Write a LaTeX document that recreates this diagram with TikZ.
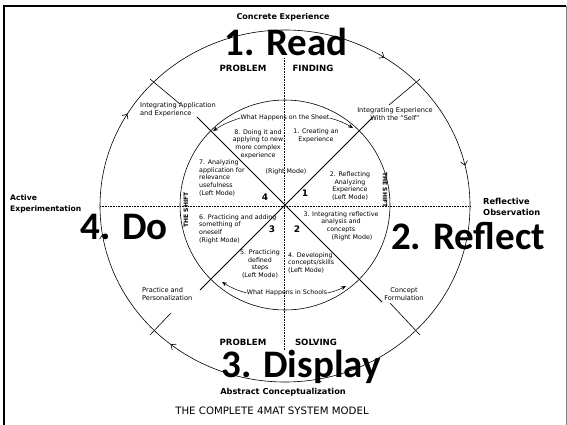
\documentclass[tikz,border=0pt]{standalone}
\usepackage{fontspec}
\setmainfont{DejaVu Sans}
\newfontfamily\bigfont{Carlito}
\usetikzlibrary{arrows.meta,decorations.markings}
\begin{document}
\begin{tikzpicture}[x=1pt,y=-1pt,
  inlab/.style={font=\fontsize{6.3}{7.6}\selectfont, inner sep=0pt, align=center},
  sidelab/.style={font=\fontsize{6.6}{8}\selectfont, inner sep=0pt, align=center},
  outb/.style={font=\bfseries\fontsize{8}{11}\selectfont, inner sep=0pt, align=left},
  headb/.style={font=\bfseries\fontsize{8.6}{10}\selectfont, inner sep=0pt},
  big/.style={font=\bigfont\bfseries\fontsize{39}{39}\selectfont, inner sep=0pt, anchor=base},
  num/.style={font=\bfseries\fontsize{9}{9}\selectfont, inner sep=0pt},
  ring/.style={line width=0.6pt},
  axisline/.style={line width=0.6pt, densely dotted},
  diag/.style={line width=0.8pt},
  flow/.style={-{Stealth[length=5pt,width=4pt]}, line width=0.5pt},
  cyc/.style={ring, postaction={decorate, decoration={markings,
     mark=at position 0.222 with {\arrow{Straight Barb[length=4pt,width=7pt]}},
     mark=at position 0.358 with {\arrow{Straight Barb[length=4pt,width=7pt]}},
     mark=at position 0.475 with {\arrow{Straight Barb[length=4pt,width=7pt]}},
     mark=at position 0.586 with {\arrow{Straight Barb[length=4pt,width=7pt]}},
     mark=at position 0.842 with {\arrow{Straight Barb[length=4pt,width=7pt]}},
     mark=at position 0.964 with {\arrow{Straight Barb[length=4pt,width=7pt]}}}}},
]
\useasboundingbox (0,0) rectangle (567,425);
\fill[white] (0,0) rectangle (567,425);
% frame
\draw[line width=1.3pt] (4,425) -- (4,6) -- (566,6);
\draw[line width=0.4pt, gray] (566,6) -- (566,425);

% centre points
\coordinate (c) at (285,206);
\coordinate (ci) at (285,205);

% outer and inner circles
\draw[cyc] (c) ellipse [x radius=185, y radius=176];
\draw[ring] (ci) circle [radius=105];

% axes
\coordinate (axL) at (100,206);
\coordinate (axR) at (470,206);
\coordinate (axT) at (284,58);
\coordinate (axB) at (284,350);
\draw[axisline] (axL) -- (axR);
\draw[axisline] (axT) -- (axB);

% diagonals
\coordinate (dNW) at (197,117);
\coordinate (dNE) at (373,117);
\coordinate (dSW) at (200,290);
\coordinate (dSE) at (382,302);
\draw[diag] (dNW) -- (dSE);
\draw[diag] (dNE) -- (dSW);

% radial segments on outer circle
\coordinate (oNWa) at (150,79);  \coordinate (oNWb) at (180,104);
\coordinate (oNEa) at (420,79);  \coordinate (oNEb) at (389,105);
\coordinate (oSEa) at (420,335); \coordinate (oSEb) at (390,303);
\coordinate (oSWa) at (150,335); \coordinate (oSWb) at (171,313);
\draw[ring] (oNWa) -- (oNWb);
\draw[ring] (oNEa) -- (oNEb);
\draw[ring] (oSEa) -- (oSEb);
\draw[ring] (oSWa) -- (oSWb);

% big labels
\node[big] (read) at (286,56) {1. Read};
\node[big] (reflect) at (468,249) {2. Reflect};
\node[big] (display) at (301,377) {3. Display};
\node[big] (do) at (124,239) {4. Do};

% outer labels
\node[headb, font=\bfseries\fontsize{8}{10}\selectfont] (ce) at (283,17) {Concrete Experience};
\node[headb] (pf) at (243,68) {PROBLEM};
\node[headb] (fd) at (313,68) {FINDING};
\node[headb] (ps) at (243,342) {PROBLEM};
\node[headb] (sv) at (316,342) {SOLVING};
\node[headb, font=\bfseries\fontsize{8.2}{10}\selectfont] (ac) at (283,392) {Abstract Conceptualization};
\node[outb, anchor=west, font=\bfseries\fontsize{7.6}{11}\selectfont] (ae) at (10,204) {Active\\Experimentation};
\node[outb, anchor=west, font=\bfseries\fontsize{8.3}{11}\selectfont] (ro) at (483,207) {Reflective\\Observation};
\node[inner sep=0pt, font=\fontsize{10.2}{12}\selectfont] (title) at (272,411) {THE COMPLETE 4MAT SYSTEM MODEL};

\node[sidelab, align=left, anchor=west] (iae) at (140,110) {Integrating Application\\and Experience};
\node[sidelab] (ies) at (395,114) {Integrating Experience\\With the “Self”};
\node[sidelab] (cf) at (404,294) {Concept\\Formulation};
\node[sidelab, align=left, anchor=west] (pp) at (142,294) {Practice and\\Personalization};

% inner labels
\node[inlab] (sheet) at (285,118) {What Happens on the Sheet};
\node[inlab] (l8) at (258,144) {8. Doing it and\\applying to new\\more complex\\experience};
\node[inlab] (l1) at (316,136) {1. Creating an\\Experience};
\node[inlab, align=left, anchor=west] (l7) at (199,178) {7. Analyzing\\application for\\relevance\\usefulness\\(Left Mode)};
\node[inlab] (rm) at (286,172) {(Right Mode)};
\node[inlab] (l2) at (350,186) {2. Reflecting\\Analyzing\\Experience\\(Left Mode)};
\node[inlab] (l3) at (341,226) {3. Integrating reflective\\analysis and\\concepts\\\hspace*{22pt}(Right Mode)};
\node[inlab, align=left, anchor=west] (l6) at (199,229) {6. Practicing and adding\\something of\\oneself\\(Right Mode)};
\node[inlab] (l5) at (260,264) {5. Practicing\\defined\\steps\\(Left Mode)};
\node[inlab, align=left, anchor=west] (l4) at (288,263) {4. Developing\\concepts/skills\\(Left Mode)};
\node[inlab] (schools) at (287,293) {What Happens in Schools};

\node[num] (n4) at (265,197) {4};
\node[num] (n1) at (305,193) {1};
\node[num] (n3) at (272,229) {3};
\node[num] (n2) at (297,229) {2};

\node[inlab, font=\bfseries\fontsize{6}{6}\selectfont, rotate=90] (shl) at (186,210) {THE SHIFT};
\node[inlab, font=\bfseries\fontsize{6}{6}\selectfont, rotate=-90] (shr) at (385,190) {THE SHIFT};

% inner flow arrows
\coordinate (tNW) at (213,131);
\coordinate (tNE) at (353,128);
\coordinate (tSW) at (222,282);
\coordinate (tSE) at (346,286);
\draw[flow] (sheet.west) to[bend right=8] (tNW);
\draw[flow] (sheet.east) to[bend left=8] (tNE);
\draw[flow] (schools.west) to[bend left=8] (tSW);
\draw[flow] (schools.east) to[bend right=8] (tSE);
\end{tikzpicture}
\end{document}
